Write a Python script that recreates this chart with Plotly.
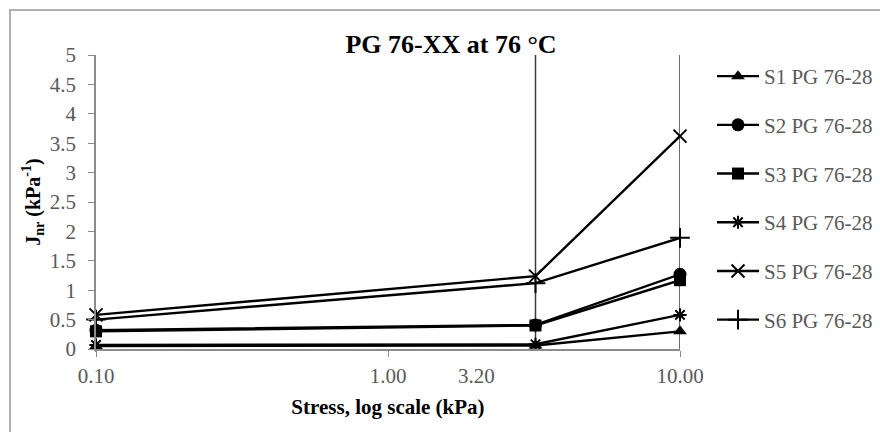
import plotly.graph_objects as go

# Stress levels (kPa) and non-recoverable creep compliance Jnr (1/kPa)
stress = [0.1, 3.2, 10.0]
s1 = [0.05, 0.06, 0.30]
s2 = [0.32, 0.41, 1.27]
s3 = [0.30, 0.40, 1.17]
s4 = [0.07, 0.08, 0.58]
s5 = [0.58, 1.24, 3.62]
s6 = [0.50, 1.12, 1.89]

series_names = ["S1 PG 76-28", "S2 PG 76-28", "S3 PG 76-28",
                "S4 PG 76-28", "S5 PG 76-28", "S6 PG 76-28"]
series_values = [s1, s2, s3, s4, s5, s6]
series_symbols = ["triangle-up", "circle", "square",
                  "asterisk-open", "x-thin-open", "cross-thin-open"]
series_sizes = [12, 13, 12, 11, 13, 14]

# Reference stress levels marked with vertical lines
ref_stress = [3.2, 10.0]
y_span = [0, 5]

x_tickvals = [0.1, 1.0, 10.0]
x_ticktext = ["0.10", "1.00", "10.00"]
y_tickvals = [0, 0.5, 1, 1.5, 2, 2.5, 3, 3.5, 4, 4.5, 5]
y_ticktext = ["0", "0.5", "1", "1.5", "2", "2.5", "3", "3.5", "4", "4.5", "5"]

FONT = "Liberation Serif"
GREY = "#8c8c8c"
LABEL = "#595959"

fig = go.Figure()

for xv in ref_stress:
    fig.add_trace(go.Scatter(
        x=[xv, xv], y=y_span, mode="lines",
        line=dict(color="#3a3a3a", width=1.5),
        showlegend=False, hoverinfo="skip", cliponaxis=False))

for i, (name, vals, sym, sz) in enumerate(zip(series_names, series_values,
                                               series_symbols, series_sizes)):
    marker = dict(symbol=sym, size=sz, color="black")
    if sym.endswith("-open"):
        marker["line"] = dict(color="black", width=2)
    fig.add_trace(go.Scatter(
        x=stress, y=vals, name=name, mode="lines+markers",
        line=dict(color="black", width=2.4),
        marker=marker, legendgroup=f"g{i}", cliponaxis=False))

fig.update_layout(
    width=880, height=432,
    margin=dict(l=96, r=200, t=55, b=83, autoexpand=False),
    paper_bgcolor="white", plot_bgcolor="white",
    font=dict(family=FONT, color="black"),
    title=dict(text="<b>PG 76-XX at 76 °C</b>", x=451 / 880, xanchor="center",
               y=1 - 44 / 432, yanchor="middle",
               font=dict(size=26, family=FONT, color="black")),
    showlegend=True,
    legend=dict(x=(712 - 96) / 584, xanchor="left", y=(349 - 56) / 294, yanchor="top",
                font=dict(size=21, family=FONT, color=LABEL),
                tracegroupgap=18.4, itemwidth=42, bgcolor="rgba(0,0,0,0)"),
    shapes=[dict(type="rect", xref="paper", yref="paper",
                 x0=(10 - 96) / 584, x1=2, y0=-1, y1=(349 - 10) / 294,
                 line=dict(color="#b0b0b0", width=2), layer="below")],
    annotations=[dict(text="3.20", xref="paper", yref="paper",
                      x=(476 - 96) / 584, y=(349 - 376) / 294,
                      xanchor="center", yanchor="middle", showarrow=False,
                      font=dict(size=21, family=FONT, color=LABEL))],
)

fig.update_xaxes(
    type="log", range=[-1, 1],
    tickvals=x_tickvals, ticktext=x_ticktext,
    tickfont=dict(size=21, family=FONT, color=LABEL),
    ticks="outside", ticklen=6, tickcolor=GREY, tickwidth=1,
    showline=True, linecolor=GREY, linewidth=1.5,
    showgrid=False, zeroline=False, ticklabelstandoff=1,
    title=dict(text="<b>Stress, log scale (kPa)</b>", standoff=12,
               font=dict(size=21, family=FONT, color="black")),
)
fig.update_yaxes(
    range=[0, 5],
    tickvals=y_tickvals, ticktext=y_ticktext,
    tickfont=dict(size=21, family=FONT, color=LABEL),
    ticks="outside", ticklen=6, tickcolor=GREY, tickwidth=1,
    showline=True, linecolor=GREY, linewidth=1.5,
    showgrid=False, zeroline=False, ticklabelstandoff=8,
    title=dict(text="<b>J<sub>nr</sub> (kPa<sup>-1</sup>)</b>", standoff=4,
               font=dict(size=20, family=FONT, color="black")),
)

fig.write_html("out.html")
